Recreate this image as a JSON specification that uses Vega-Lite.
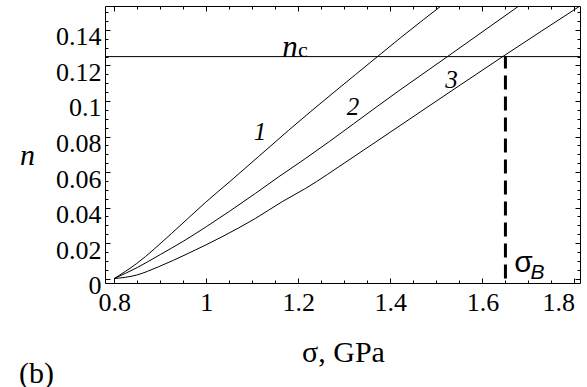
{
  "$schema": "https://vega.github.io/schema/vega-lite/v6.json",
  "width": 475,
  "height": 277,
  "autosize": {"type": "none"},
  "padding": {"left": 105, "top": 6, "right": 7, "bottom": 104},
  "background": "white",
  "config": {
    "view": {"stroke": "black", "strokeWidth": 1},
    "axis": {
      "labelFont": "Liberation Serif",
      "labelFontSize": 26,
      "labelColor": "black",
      "tickColor": "black",
      "domain": false,
      "grid": false,
      "titleFont": "Liberation Serif",
      "titleColor": "black",
      "titleFontWeight": "normal"
    }
  },
  "title": {
    "text": "(b)",
    "orient": "bottom",
    "anchor": "start",
    "frame": "group",
    "dx": -86,
    "offset": -8,
    "font": "Liberation Serif",
    "fontSize": 30,
    "fontWeight": "normal",
    "color": "black"
  },
  "datasets": {
    "curves": [
      {"curve": "1", "sigma": 0.8, "n": 0.0},
      {"curve": "1", "sigma": 0.849, "n": 0.0085},
      {"curve": "1", "sigma": 0.925, "n": 0.0255},
      {"curve": "1", "sigma": 0.998, "n": 0.0428},
      {"curve": "1", "sigma": 1.052, "n": 0.0548},
      {"curve": "1", "sigma": 1.114, "n": 0.0688},
      {"curve": "1", "sigma": 1.179, "n": 0.0835},
      {"curve": "1", "sigma": 1.372, "n": 0.125},
      {"curve": "1", "sigma": 1.423, "n": 0.1358},
      {"curve": "1", "sigma": 1.52, "n": 0.1555},
      {"curve": "2", "sigma": 0.8, "n": 0.0},
      {"curve": "2", "sigma": 0.85, "n": 0.0062},
      {"curve": "2", "sigma": 0.9, "n": 0.0135},
      {"curve": "2", "sigma": 0.95, "n": 0.021},
      {"curve": "2", "sigma": 1.0, "n": 0.0292},
      {"curve": "2", "sigma": 1.05, "n": 0.0378},
      {"curve": "2", "sigma": 1.107, "n": 0.048},
      {"curve": "2", "sigma": 1.158, "n": 0.0574},
      {"curve": "2", "sigma": 1.216, "n": 0.0677},
      {"curve": "2", "sigma": 1.423, "n": 0.1066},
      {"curve": "2", "sigma": 1.524, "n": 0.125},
      {"curve": "2", "sigma": 1.69, "n": 0.1555},
      {"curve": "3", "sigma": 0.8, "n": 0.0},
      {"curve": "3", "sigma": 0.849, "n": 0.002},
      {"curve": "3", "sigma": 0.896, "n": 0.0066},
      {"curve": "3", "sigma": 0.961, "n": 0.0142},
      {"curve": "3", "sigma": 1.034, "n": 0.0235},
      {"curve": "3", "sigma": 1.107, "n": 0.0339},
      {"curve": "3", "sigma": 1.165, "n": 0.0433},
      {"curve": "3", "sigma": 1.216, "n": 0.0508},
      {"curve": "3", "sigma": 1.31, "n": 0.0668},
      {"curve": "3", "sigma": 1.423, "n": 0.0865},
      {"curve": "3", "sigma": 1.644, "n": 0.125},
      {"curve": "3", "sigma": 1.812, "n": 0.1535}
    ],
    "critical": [{"nc": 0.125}],
    "sigmaB": [{"sigma": 1.65, "n0": 0.0, "n1": 0.125}],
    "curveLabels": [
      {"sigma": 1.117, "n": 0.0827, "label": "1"},
      {"sigma": 1.319, "n": 0.0968, "label": "2"},
      {"sigma": 1.533, "n": 0.1118, "label": "3"}
    ],
    "symbolMain": [{"sigma": 1.182, "n": 0.1301, "label": "n"}],
    "symbolSub": [{"sigma": 1.21, "n": 0.1287, "label": "c"}],
    "sigmaMain": [{"sigma": 1.689, "n": 0.009, "label": "σ"}],
    "sigmaSub": [{"sigma": 1.7196, "n": 0.0034, "label": "B"}]
  },
  "layer": [
    {
      "data": {"name": "curves"},
      "mark": {"type": "line", "color": "black", "strokeWidth": 1, "clip": true, "interpolate": "monotone"},
      "encoding": {
        "x": {
          "field": "sigma", "type": "quantitative",
          "scale": {"domain": [0.78, 1.812], "nice": false, "zero": false},
          "axis": {
            "orient": "bottom",
            "values": [0.8, 1.0, 1.2, 1.4, 1.6, 1.8],
            "format": "~g",
            "labelFont": "Liberation Serif",
            "labelFontSize": 26,
            "labelFlush": 8,
            "tickSize": -5,
            "labelPadding": 11,
            "title": "σ, GPa",
            "titleFontSize": 30,
            "titleX": 238,
            "titleY": 69,
            "titleAlign": "center",
            "titleBaseline": "middle"
          }
        },
        "y": {
          "field": "n", "type": "quantitative",
          "scale": {"domain": [-0.0025, 0.1535], "nice": false, "zero": false},
          "axis": {
            "orient": "left",
            "values": [0, 0.02, 0.04, 0.06, 0.08, 0.1, 0.12, 0.14],
            "format": "~g",
            "labelFont": "Liberation Serif",
            "labelFontSize": 26,
            "tickSize": -5,
            "labelPadding": 9,
            "labelOffset": 7,
            "title": "n",
            "titleFontSize": 30,
            "titleFontStyle": "italic",
            "titleAngle": 0,
            "titleX": -78,
            "titleY": 149,
            "titleAlign": "center",
            "titleBaseline": "middle"
          }
        },
        "detail": {"field": "curve", "type": "nominal"}
      }
    },
    {
      "data": {"name": "curves"},
      "mark": {"type": "line", "strokeOpacity": 0},
      "encoding": {
        "x": {
          "field": "sigma", "type": "quantitative",
          "scale": {"domain": [0.78, 1.812], "nice": false, "zero": false},
          "axis": {
            "orient": "bottom",
            "values": [0.8, 0.85, 0.9, 0.95, 1.0, 1.05, 1.1, 1.15, 1.2, 1.25, 1.3, 1.35, 1.4, 1.45, 1.5, 1.55, 1.6, 1.65, 1.7, 1.75, 1.8],
            "labels": false,
            "tickSize": -3,
            "title": null
          }
        },
        "y": {
          "field": "n", "type": "quantitative",
          "scale": {"domain": [-0.0025, 0.1535], "nice": false, "zero": false},
          "axis": {
            "orient": "left",
            "values": [0, 0.005, 0.01, 0.015, 0.02, 0.025, 0.03, 0.035, 0.04, 0.045, 0.05, 0.055, 0.06, 0.065, 0.07, 0.075, 0.08, 0.085, 0.09, 0.095, 0.1, 0.105, 0.11, 0.115, 0.12, 0.125, 0.13, 0.135, 0.14, 0.145, 0.15],
            "labels": false,
            "tickSize": -3,
            "title": null
          }
        },
        "detail": {"field": "curve", "type": "nominal"}
      }
    },
    {
      "data": {"name": "curves"},
      "mark": {"type": "line", "strokeOpacity": 0},
      "encoding": {
        "x": {
          "field": "sigma", "type": "quantitative",
          "scale": {"domain": [0.78, 1.812], "nice": false, "zero": false},
          "axis": {
            "orient": "top",
            "values": [0.8, 1.0, 1.2, 1.4, 1.6, 1.8],
            "labels": false,
            "tickSize": -5,
            "title": null
          }
        },
        "y": {
          "field": "n", "type": "quantitative",
          "scale": {"domain": [-0.0025, 0.1535], "nice": false, "zero": false},
          "axis": {
            "orient": "right",
            "values": [0, 0.02, 0.04, 0.06, 0.08, 0.1, 0.12, 0.14],
            "labels": false,
            "tickSize": -5,
            "title": null
          }
        },
        "detail": {"field": "curve", "type": "nominal"}
      }
    },
    {
      "data": {"name": "curves"},
      "mark": {"type": "line", "strokeOpacity": 0},
      "encoding": {
        "x": {
          "field": "sigma", "type": "quantitative",
          "scale": {"domain": [0.78, 1.812], "nice": false, "zero": false},
          "axis": {
            "orient": "top",
            "values": [0.8, 0.85, 0.9, 0.95, 1.0, 1.05, 1.1, 1.15, 1.2, 1.25, 1.3, 1.35, 1.4, 1.45, 1.5, 1.55, 1.6, 1.65, 1.7, 1.75, 1.8],
            "labels": false,
            "tickSize": -3,
            "title": null
          }
        },
        "y": {
          "field": "n", "type": "quantitative",
          "scale": {"domain": [-0.0025, 0.1535], "nice": false, "zero": false},
          "axis": {
            "orient": "right",
            "values": [0, 0.005, 0.01, 0.015, 0.02, 0.025, 0.03, 0.035, 0.04, 0.045, 0.05, 0.055, 0.06, 0.065, 0.07, 0.075, 0.08, 0.085, 0.09, 0.095, 0.1, 0.105, 0.11, 0.115, 0.12, 0.125, 0.13, 0.135, 0.14, 0.145, 0.15],
            "labels": false,
            "tickSize": -3,
            "title": null
          }
        },
        "detail": {"field": "curve", "type": "nominal"}
      }
    },
    {
      "data": {"name": "critical"},
      "mark": {"type": "rule", "color": "black", "strokeWidth": 1},
      "encoding": {
        "y": {"field": "nc", "type": "quantitative", "axis": null}
      }
    },
    {
      "data": {"name": "sigmaB"},
      "mark": {"type": "rule", "color": "black", "strokeWidth": 3, "strokeDash": [14, 7]},
      "encoding": {
        "x": {"field": "sigma", "type": "quantitative", "axis": null},
        "y": {"field": "n0", "type": "quantitative", "axis": null},
        "y2": {"field": "n1"}
      }
    },
    {
      "data": {"name": "curveLabels"},
      "mark": {"type": "text", "font": "Liberation Serif", "fontSize": 25, "fontStyle": "italic", "color": "black", "align": "center", "baseline": "middle"},
      "encoding": {
        "x": {"field": "sigma", "type": "quantitative", "axis": null},
        "y": {"field": "n", "type": "quantitative", "axis": null},
        "text": {"field": "label"}
      }
    },
    {
      "data": {"name": "symbolMain"},
      "mark": {"type": "text", "font": "Liberation Serif", "fontSize": 31, "fontStyle": "italic", "color": "black", "align": "center", "baseline": "middle"},
      "encoding": {
        "x": {"field": "sigma", "type": "quantitative", "axis": null},
        "y": {"field": "n", "type": "quantitative", "axis": null},
        "text": {"field": "label"}
      }
    },
    {
      "data": {"name": "symbolSub"},
      "mark": {"type": "text", "font": "Liberation Serif", "fontSize": 22, "color": "black", "align": "center", "baseline": "middle"},
      "encoding": {
        "x": {"field": "sigma", "type": "quantitative", "axis": null},
        "y": {"field": "n", "type": "quantitative", "axis": null},
        "text": {"field": "label"}
      }
    },
    {
      "data": {"name": "sigmaMain"},
      "mark": {"type": "text", "font": "Liberation Sans", "fontSize": 30, "color": "black", "align": "center", "baseline": "middle"},
      "encoding": {
        "x": {"field": "sigma", "type": "quantitative", "axis": null},
        "y": {"field": "n", "type": "quantitative", "axis": null},
        "text": {"field": "label"}
      }
    },
    {
      "data": {"name": "sigmaSub"},
      "mark": {"type": "text", "font": "Liberation Sans", "fontSize": 21, "fontStyle": "italic", "color": "black", "align": "center", "baseline": "middle"},
      "encoding": {
        "x": {"field": "sigma", "type": "quantitative", "axis": null},
        "y": {"field": "n", "type": "quantitative", "axis": null},
        "text": {"field": "label"}
      }
    }
  ],
  "resolve": {"axis": {"x": "independent", "y": "independent"}}
}
